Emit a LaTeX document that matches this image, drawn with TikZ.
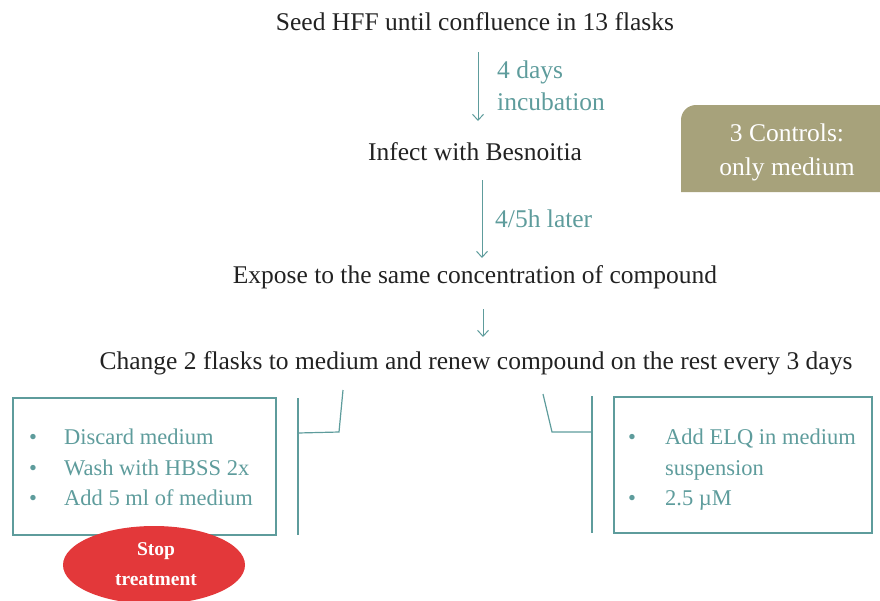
\documentclass[tikz,border=0pt]{standalone}
\usepackage{fontspec}
\setmainfont{Liberation Serif}
\usetikzlibrary{arrows.meta,shapes.geometric}
\definecolor{teal}{HTML}{5E9C9C}
\definecolor{olive}{HTML}{A7A27B}
\definecolor{stopred}{HTML}{E3383A}
\definecolor{ink}{HTML}{222222}
\tikzset{
  steptext/.style={text=ink,font=\fontsize{25.5}{30}\selectfont,inner sep=0pt},
  note/.style={text=teal,font=\fontsize{25.5}{32}\selectfont,align=left,inner sep=0pt,anchor=west},
  flow/.style={draw=teal,line width=1pt,-{Straight Barb[length=6pt,width=11pt]}},
  bracket/.style={draw=teal,line width=1.2pt},
  panel/.style={draw=teal,line width=1.2pt},
  bul/.style={text=teal,font=\fontsize{22.5}{26}\selectfont,inner sep=0pt,anchor=base west},
}
\begin{document}
\begin{tikzpicture}[x=1pt,y=-1pt]
\useasboundingbox (0,0) rectangle (880,600);

% main steps
\node[steptext] (seed) at (475,22) {Seed HFF until confluence in 13 flasks};
\node[steptext] (infect) at (475,152) {Infect with Besnoitia};
\node[steptext] (expose) at (475,277) {Expose to the same concentration of compound};
\node[steptext] (change) at (476,363) {Change 2 flasks to medium and renew compound on the rest every 3 days};

% connectors between steps
\coordinate (a1s) at (478,52); \coordinate (a1e) at (478,121);
\coordinate (a2s) at (482,180); \coordinate (a2e) at (482,258);
\coordinate (a3s) at (483,309); \coordinate (a3e) at (483,337);
\draw[flow] (a1s) -- (a1e);
\draw[flow] (a2s) -- (a2e);
\draw[flow] (a3s) -- (a3e);
\node[note] (l1) at (497,86) {4 days\\incubation};
\node[note] (l2) at (495,219) {4/5h later};

% control group box with one rounded corner
\path[fill=olive] (681,192) -- (681,120) arc[start angle=180,end angle=270,radius=15] -- (880,105) -- (880,192) -- cycle;
\node[text=white,font=\fontsize{25.5}{34}\selectfont,align=center,inner sep=0pt] (ctrl) at (787,152) {3 Controls:\\only medium};

% left panel
\draw[panel] (13,398) rectangle (276,535);
\node[bul] (b1) at (29,444) {\textbullet};
\node[bul] (t1) at (64,444) {Discard medium};
\node[bul] (b2) at (29,475) {\textbullet};
\node[bul] (t2) at (64,475) {Wash with HBSS 2x};
\node[bul] (b3) at (29,505) {\textbullet};
\node[bul] (t3) at (64,505) {Add 5 ml of medium};

% right panel
\draw[panel] (614,397) rectangle (872,533);
\node[bul] (r1) at (628,444) {\textbullet};
\node[bul] (s1) at (665,444) {Add ELQ in medium};
\node[bul] (s1b) at (665,475) {suspension};
\node[bul] (r2) at (628,505) {\textbullet};
\node[bul] (s2) at (665,505) {2.5 µM};

% brackets
\coordinate (lv1) at (298,398); \coordinate (lv2) at (298,535);
\coordinate (lh) at (298,433); \coordinate (lk) at (339,432); \coordinate (lt) at (343,390);
\draw[bracket] (lv1) -- (lv2);
\draw[bracket] (lh) -- (lk) -- (lt);
\coordinate (rv1) at (592,396); \coordinate (rv2) at (592,533);
\coordinate (rh) at (592,432); \coordinate (rk) at (552,432); \coordinate (rt) at (543,394);
\draw[bracket] (rv1) -- (rv2);
\draw[bracket] (rh) -- (rk) -- (rt);

% stop marker
\node[ellipse,fill=stopred,minimum width=182pt,minimum height=78pt,inner sep=0pt] (stop) at (154,565) {};
\node[text=white,font=\fontsize{19.5}{30}\selectfont\bfseries,align=center,inner sep=0pt] (stoptxt) at (156,564) {Stop\\treatment};
\end{tikzpicture}
\end{document}
